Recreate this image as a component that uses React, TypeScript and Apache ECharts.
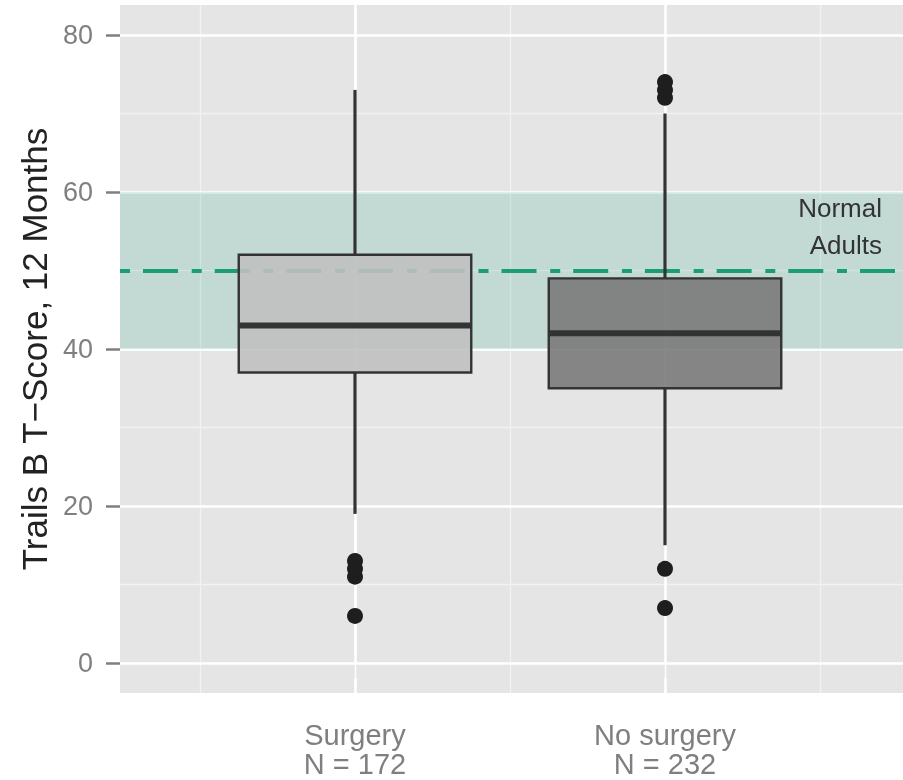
import React, { useEffect, useRef } from "react";
import * as echarts from "echarts";

// ---- data ----
const CATEGORIES = ["Surgery", "No surgery"];
const N_LABELS = ["N = 172", "N = 232"];
const WHISKER_LOW = [19, 15];
const Q1 = [37, 35];
const MEDIAN = [43, 42];
const Q3 = [52, 49];
const WHISKER_HIGH = [73, 70];
const OUTLIERS_SURGERY = [6, 11, 12, 13];
const OUTLIERS_NO_SURGERY = [7, 12, 72, 73, 74];
const Y_TICKS = [0, 20, 40, 60, 80];
const Y_MINOR = [10, 30, 50, 70];
const X_MINOR = [0.5, 1.5, 2.5];
const NORMAL_RANGE = [40, 60];
const NORMAL_MEAN = 50;
const Y_TITLE = "Trails B T\u2212Score, 12 Months";
const BAND_LABEL = "Normal\nAdults";

const BOX_FILLS = ["rgba(192,192,192,0.9)", "rgba(122,122,122,0.9)"];
const FONT = "'Liberation Sans', Arial, sans-serif";

export default function App() {
  const ref = useRef<HTMLDivElement>(null);

  useEffect(() => {
    if (!ref.current) return;
    const chart = echarts.init(ref.current, undefined, { renderer: "svg" });

    const xPos = CATEGORIES.map((_, i) => i + 1);
    const boxData = xPos.map((x, i) => [
      x,
      WHISKER_LOW[i],
      Q1[i],
      MEDIAN[i],
      Q3[i],
      WHISKER_HIGH[i],
    ]);
    const outlierData = [
      ...OUTLIERS_SURGERY.map((v) => [1, v]),
      ...OUTLIERS_NO_SURGERY.map((v) => [2, v]),
    ];

    const gridLines: any[] = [
      ...Y_MINOR.map((v) => ({
        yAxis: v,
        lineStyle: { color: "#f2f2f2", width: 1.3, type: "solid" },
      })),
      ...X_MINOR.map((v) => ({
        xAxis: v,
        lineStyle: { color: "#f2f2f2", width: 1.3, type: "solid" },
      })),
      ...Y_TICKS.map((v) => ({
        yAxis: v,
        lineStyle: { color: "#ffffff", width: 2.6, type: "solid" },
      })),
      ...xPos.map((v) => ({
        xAxis: v,
        lineStyle: { color: "#ffffff", width: 2.6, type: "solid" },
      })),
    ];

    const BOX_HALF = 0.375;

    const option: any = {
      animation: false,
      textStyle: { fontFamily: FONT },
      grid: {
        left: 120,
        right: 0,
        top: 5,
        bottom: 87,
        show: true,
        backgroundColor: "#e5e5e5",
        borderWidth: 0,
      },
      xAxis: {
        type: "value",
        min: 1 - 235 / 310,
        max: 1 - 235 / 310 + 783 / 310,
        splitLine: { show: false },
        axisLine: { show: false },
        axisTick: {
          show: true,
          customValues: xPos,
          length: 15,
          lineStyle: { color: "#7f7f7f", width: 2.5 },
        },
        axisLabel: {
          customValues: xPos,
          formatter: (v: number) => {
            const i = Math.round(v) - 1;
            return CATEGORIES[i] + "\n" + N_LABELS[i];
          },
          color: "#7f7f7f",
          fontSize: 29,
          lineHeight: 29,
          margin: 27,
          fontFamily: FONT,
        },
      },
      yAxis: {
        type: "value",
        min: -3.82,
        max: 83.82,
        splitLine: { show: false },
        axisLine: { show: false },
        axisTick: {
          show: true,
          customValues: Y_TICKS,
          length: 14,
          lineStyle: { color: "#7f7f7f", width: 2.5 },
        },
        axisLabel: {
          customValues: Y_TICKS,
          color: "#7f7f7f",
          fontSize: 27,
          margin: 27,
          fontFamily: FONT,
        },
        name: Y_TITLE,
        nameLocation: "middle",
        nameRotate: 90,
        nameGap: 67,
        nameTextStyle: { color: "#222222", fontSize: 35, fontFamily: FONT },
      },
      series: [
        {
          type: "scatter",
          z: 1,
          silent: true,
          data: [[1, 50]],
          symbolSize: 0,
          itemStyle: { opacity: 0 },
          markLine: {
            z: 1,
            silent: true,
            symbol: "none",
            label: { show: false },
            emphasis: { disabled: true },
            data: gridLines,
          },
        },
        {
          type: "scatter",
          z: 2,
          silent: true,
          data: [[1, 50]],
          symbolSize: 0,
          itemStyle: { opacity: 0 },
          markArea: {
            z: 2,
            silent: true,
            itemStyle: { color: "rgba(27,158,119,0.165)" },
            label: {
              show: true,
              position: "insideTopRight",
              distance: 0,
              offset: [-21, -2],
              color: "#333333",
              fontSize: 26,
              lineHeight: 37,
              align: "right",
              fontFamily: FONT,
            },
            data: [
              [
                { yAxis: NORMAL_RANGE[1], name: BAND_LABEL },
                { yAxis: NORMAL_RANGE[0] },
              ],
            ],
          },
        },
        {
          type: "scatter",
          z: 3,
          silent: true,
          data: [[1, 50]],
          symbolSize: 0,
          itemStyle: { opacity: 0 },
          markLine: {
            z: 3,
            silent: true,
            symbol: "none",
            label: { show: false },
            emphasis: { disabled: true },
            lineStyle: {
              color: "#1b9e77",
              width: 4,
              type: [10, 13, 35, 13.7],
            },
            data: [{ yAxis: NORMAL_MEAN }],
          },
        },
        {
          type: "custom",
          z: 4,
          silent: true,
          data: boxData,
          encode: { x: 0, y: [1, 2, 3, 4, 5] },
          renderItem: (params: any, api: any) => {
            const x = api.value(0);
            const lo = api.value(1);
            const q1 = api.value(2);
            const med = api.value(3);
            const q3 = api.value(4);
            const hi = api.value(5);
            const pLo = api.coord([x, lo]);
            const pHi = api.coord([x, hi]);
            const pQ1 = api.coord([x, q1]);
            const pQ3 = api.coord([x, q3]);
            const tl = api.coord([x - BOX_HALF, q3]);
            const br = api.coord([x + BOX_HALF, q1]);
            const ml = api.coord([x - BOX_HALF, med]);
            const mr = api.coord([x + BOX_HALF, med]);
            const dark = "#333333";
            return {
              type: "group",
              children: [
                {
                  type: "line",
                  shape: { x1: pHi[0], y1: pHi[1], x2: pQ3[0], y2: pQ3[1] },
                  style: { stroke: dark, lineWidth: 3.2 },
                },
                {
                  type: "line",
                  shape: { x1: pLo[0], y1: pLo[1], x2: pQ1[0], y2: pQ1[1] },
                  style: { stroke: dark, lineWidth: 3.2 },
                },
                {
                  type: "rect",
                  shape: {
                    x: tl[0],
                    y: tl[1],
                    width: br[0] - tl[0],
                    height: br[1] - tl[1],
                  },
                  style: {
                    fill: BOX_FILLS[params.dataIndex],
                    stroke: dark,
                    lineWidth: 2.4,
                  },
                },
                {
                  type: "line",
                  shape: { x1: ml[0], y1: ml[1], x2: mr[0], y2: mr[1] },
                  style: { stroke: dark, lineWidth: 6 },
                },
              ],
            };
          },
        },
        {
          type: "scatter",
          z: 5,
          silent: true,
          data: outlierData,
          symbol: "circle",
          symbolSize: 16,
          itemStyle: { color: "#1e1e1e", opacity: 1 },
        },
      ],
    };

    chart.setOption(option);
    return () => chart.dispose();
  }, []);

  return (
    <div
      ref={ref}
      style={{ position: "fixed", left: 0, top: 0, width: 903, height: 780 }}
    />
  );
}
